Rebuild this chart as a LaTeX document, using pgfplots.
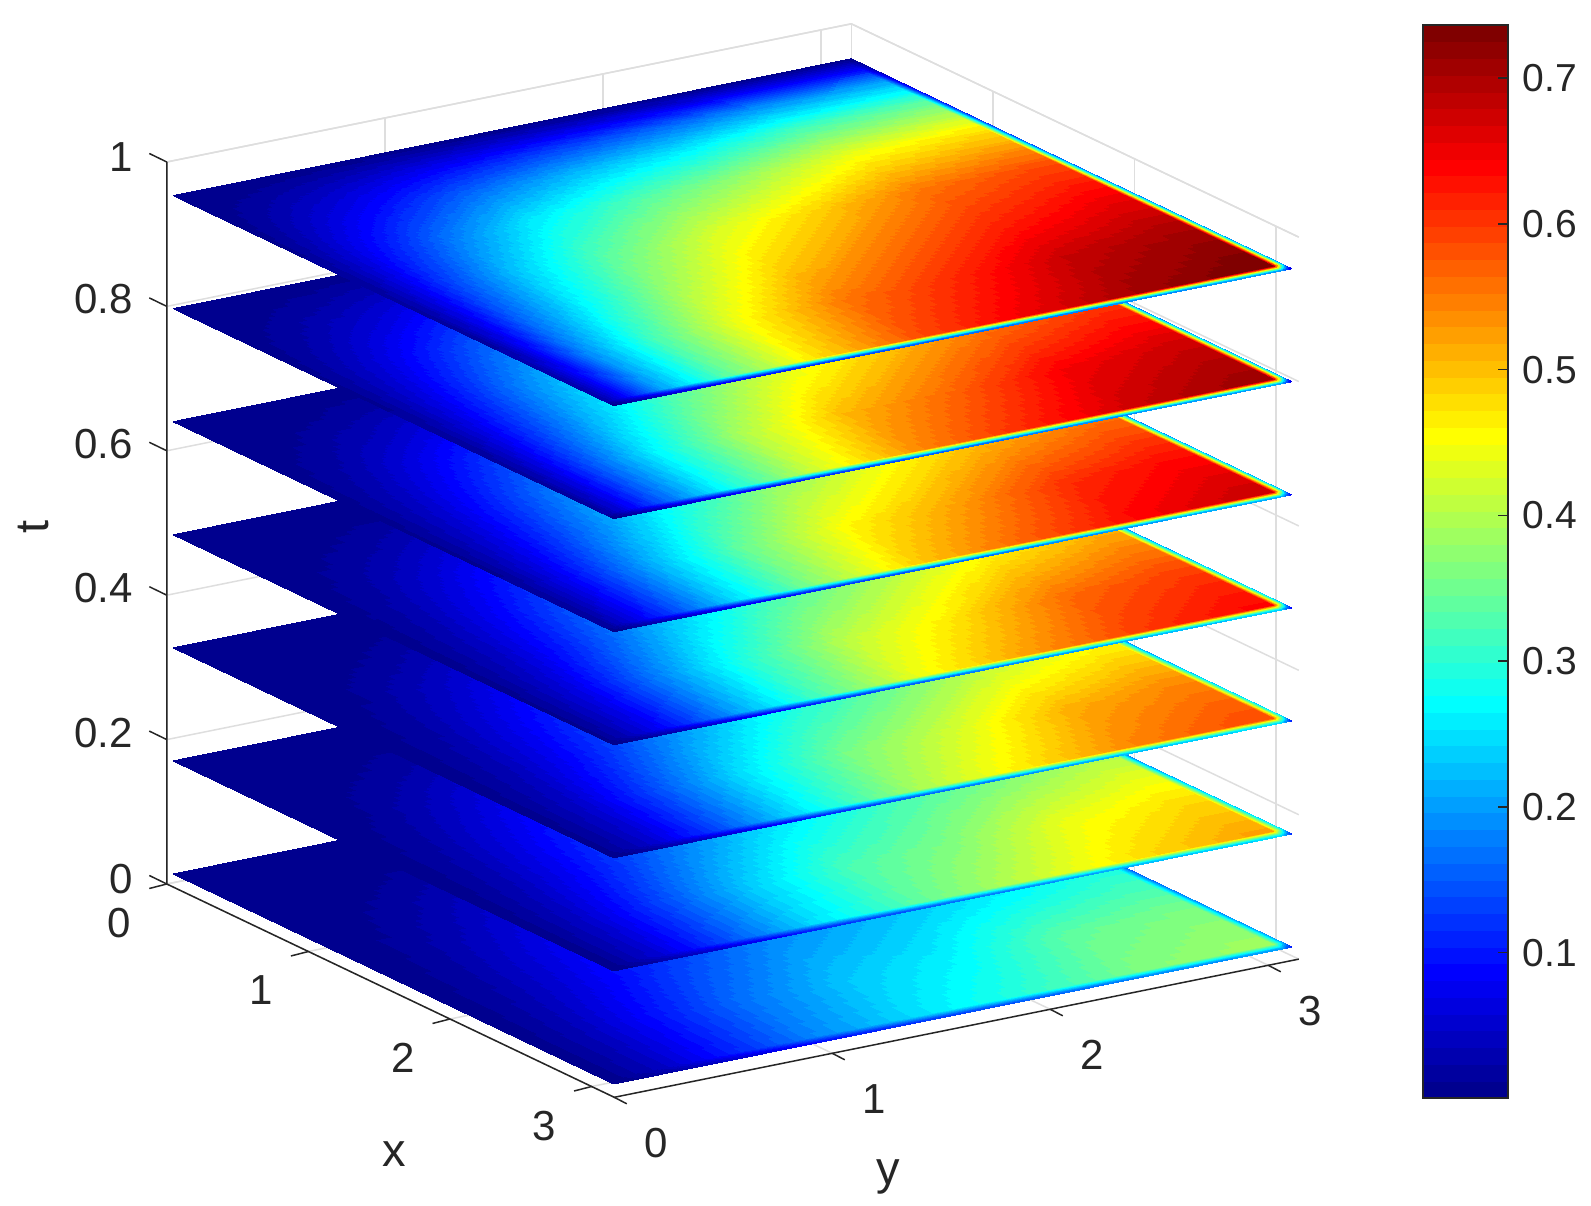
\documentclass[border=0pt]{standalone}
\usepackage{fontspec}
\setmainfont{Liberation Sans}
\usepackage{pgfplots}
\usepackage{pgfplotstable}
\usepgfplotslibrary{patchplots}
\pgfplotsset{compat=1.18}
\pgfplotsset{
  colormap={mjet}{rgb255(0)=(0,0,143) rgb255(7)=(0,0,255) rgb255(23)=(0,255,255)
    rgb255(39)=(255,255,0) rgb255(55)=(255,0,0) rgb255(63)=(128,0,0)},
  colormap={jet64}{samples of colormap=(64 of mjet)},
}
\definecolor{txt}{gray}{0.15}
\definecolor{gridc}{gray}{0.87}
\newcommand{\ticksize}{\fontsize{42}{42}\selectfont}
\newcommand{\barsize}{\fontsize{39}{39}\selectfont}
\newcommand{\labsize}{\fontsize{47}{47}\selectfont}

% x y, then the field on the seven slices, bottom to top
\pgfplotstableread{
x y u1 u2 u3 u4 u5 u6 u7
0 0.03 0.001 0.001 0.001 0.001 0.001 0.001 0.001
0.3 0.03 0.001 0.001 0.001 0.001 0.002 0.002 0.003
0.6 0.03 0.001 0.001 0.001 0.002 0.003 0.004 0.005
1 0.03 0.001 0.001 0.001 0.002 0.004 0.006 0.008
1.5 0.03 0.001 0.001 0.001 0.002 0.005 0.007 0.010
2 0.03 0.001 0.001 0.001 0.003 0.006 0.009 0.012
2.5 0.03 0.001 0.001 0.002 0.004 0.007 0.011 0.015
3 0.03 0.001 0.001 0.002 0.005 0.010 0.015 0.020
3.05 0.03 0.001 0.001 0.002 0.005 0.010 0.015 0.020
3.08 0.03 0.001 0.001 0.001 0.003 0.006 0.009 0.012
3.11 0.03 0.001 0.001 0.001 0.001 0.003 0.004 0.005
0 0.3 0.001 0.001 0.001 0.001 0.001 0.001 0.001
0.3 0.3 0.001 0.002 0.002 0.003 0.006 0.012 0.025
0.6 0.3 0.004 0.005 0.005 0.009 0.016 0.028 0.050
1 0.3 0.010 0.013 0.014 0.021 0.034 0.054 0.085
1.5 0.3 0.018 0.024 0.024 0.036 0.056 0.081 0.120
2 0.3 0.026 0.035 0.036 0.051 0.076 0.106 0.150
2.5 0.3 0.037 0.050 0.052 0.072 0.101 0.135 0.185
3 0.3 0.042 0.057 0.060 0.081 0.112 0.149 0.200
3.05 0.3 0.042 0.057 0.060 0.081 0.112 0.149 0.200
3.08 0.3 0.032 0.041 0.042 0.054 0.073 0.094 0.120
3.11 0.3 0.021 0.026 0.024 0.028 0.034 0.040 0.050
0 0.6 0.001 0.001 0.001 0.001 0.001 0.002 0.002
0.3 0.6 0.004 0.005 0.005 0.009 0.016 0.028 0.050
0.6 0.6 0.012 0.016 0.017 0.025 0.040 0.061 0.095
1 0.6 0.029 0.039 0.041 0.057 0.083 0.114 0.160
1.5 0.6 0.050 0.067 0.071 0.094 0.128 0.167 0.220
2 0.6 0.066 0.089 0.095 0.123 0.161 0.205 0.260
2.5 0.6 0.091 0.123 0.133 0.167 0.209 0.257 0.315
3 0.6 0.101 0.137 0.148 0.183 0.228 0.276 0.335
3.05 0.6 0.101 0.137 0.148 0.183 0.228 0.276 0.335
3.08 0.6 0.076 0.099 0.104 0.123 0.148 0.174 0.201
3.11 0.6 0.051 0.062 0.059 0.064 0.068 0.075 0.084
0 1 0.001 0.001 0.001 0.001 0.002 0.002 0.003
0.3 1 0.010 0.013 0.014 0.021 0.034 0.054 0.085
0.6 1 0.029 0.039 0.041 0.057 0.083 0.114 0.160
1 1 0.062 0.083 0.089 0.116 0.152 0.195 0.250
1.5 1 0.096 0.130 0.140 0.175 0.219 0.267 0.325
2 1 0.126 0.169 0.184 0.224 0.272 0.321 0.380
2.5 1 0.164 0.222 0.243 0.287 0.338 0.389 0.445
3 1 0.181 0.243 0.268 0.313 0.364 0.415 0.470
3.05 1 0.181 0.243 0.268 0.313 0.364 0.415 0.470
3.08 1 0.136 0.175 0.188 0.210 0.237 0.261 0.282
3.11 1 0.091 0.109 0.107 0.110 0.109 0.112 0.118
0 1.5 0.001 0.001 0.001 0.002 0.002 0.003 0.004
0.3 1.5 0.018 0.024 0.024 0.036 0.056 0.081 0.120
0.6 1.5 0.050 0.067 0.071 0.094 0.128 0.167 0.220
1 1.5 0.096 0.130 0.140 0.175 0.219 0.267 0.325
1.5 1.5 0.149 0.201 0.220 0.262 0.312 0.363 0.420
2 1.5 0.190 0.256 0.282 0.329 0.380 0.431 0.485
2.5 1.5 0.230 0.322 0.357 0.407 0.457 0.507 0.555
3 1.5 0.250 0.340 0.393 0.443 0.493 0.540 0.585
3.05 1.5 0.250 0.340 0.393 0.443 0.493 0.540 0.585
3.08 1.5 0.190 0.245 0.275 0.297 0.320 0.340 0.351
3.11 1.5 0.125 0.153 0.157 0.155 0.148 0.146 0.146
0 2 0.001 0.001 0.001 0.002 0.002 0.003 0.004
0.3 2 0.026 0.035 0.036 0.051 0.076 0.106 0.150
0.6 2 0.066 0.089 0.095 0.123 0.161 0.205 0.260
1 2 0.126 0.169 0.184 0.224 0.272 0.321 0.380
1.5 2 0.190 0.256 0.282 0.329 0.380 0.431 0.485
2 2 0.226 0.318 0.352 0.401 0.452 0.502 0.550
2.5 2 0.265 0.365 0.423 0.473 0.522 0.568 0.610
3 2 0.300 0.410 0.471 0.523 0.570 0.612 0.650
3.05 2 0.300 0.410 0.471 0.523 0.570 0.612 0.650
3.08 2 0.225 0.295 0.330 0.350 0.371 0.386 0.390
3.11 2 0.150 0.185 0.188 0.183 0.171 0.165 0.163
0 2.5 0.001 0.001 0.001 0.002 0.003 0.004 0.005
0.3 2.5 0.037 0.050 0.052 0.072 0.101 0.135 0.185
0.6 2.5 0.091 0.123 0.133 0.167 0.209 0.257 0.315
1 2.5 0.164 0.222 0.243 0.287 0.338 0.389 0.445
1.5 2.5 0.230 0.322 0.357 0.407 0.457 0.507 0.555
2 2.5 0.265 0.365 0.423 0.473 0.522 0.568 0.610
2.5 2.5 0.338 0.440 0.510 0.561 0.606 0.646 0.680
3 2.5 0.359 0.475 0.544 0.595 0.637 0.676 0.705
3.05 2.5 0.359 0.475 0.544 0.595 0.637 0.676 0.705
3.08 2.5 0.269 0.342 0.381 0.399 0.414 0.426 0.423
3.11 2.5 0.180 0.214 0.218 0.208 0.191 0.183 0.176
0 3 0.001 0.001 0.001 0.002 0.003 0.004 0.005
0.3 3 0.042 0.057 0.060 0.081 0.112 0.149 0.200
0.6 3 0.101 0.137 0.148 0.183 0.228 0.276 0.335
1 3 0.181 0.243 0.268 0.313 0.364 0.415 0.470
1.5 3 0.250 0.340 0.393 0.443 0.493 0.540 0.585
2 3 0.300 0.410 0.471 0.523 0.570 0.612 0.650
2.5 3 0.359 0.475 0.544 0.595 0.637 0.676 0.705
3 3 0.386 0.520 0.585 0.635 0.675 0.710 0.735
3.05 3 0.386 0.520 0.585 0.635 0.675 0.710 0.735
3.08 3 0.290 0.374 0.410 0.425 0.439 0.447 0.441
3.11 3 0.193 0.234 0.234 0.222 0.203 0.192 0.184
0 3.095 0.001 0.001 0.001 0.002 0.003 0.004 0.005
0.3 3.095 0.042 0.057 0.060 0.081 0.112 0.149 0.200
0.6 3.095 0.101 0.137 0.148 0.183 0.228 0.276 0.335
1 3.095 0.181 0.243 0.268 0.313 0.364 0.415 0.470
1.5 3.095 0.250 0.340 0.393 0.443 0.493 0.540 0.585
2 3.095 0.300 0.410 0.471 0.523 0.570 0.612 0.650
2.5 3.095 0.359 0.475 0.544 0.595 0.637 0.676 0.705
3 3.095 0.386 0.520 0.585 0.635 0.675 0.710 0.735
3.05 3.095 0.386 0.520 0.585 0.635 0.675 0.710 0.735
3.08 3.095 0.290 0.374 0.410 0.425 0.439 0.447 0.441
3.11 3.095 0.193 0.234 0.234 0.222 0.203 0.192 0.184
0 3.12 0.001 0.001 0.001 0.001 0.002 0.002 0.003
0.3 3.12 0.032 0.041 0.042 0.054 0.073 0.094 0.120
0.6 3.12 0.076 0.099 0.104 0.123 0.148 0.174 0.201
1 3.12 0.136 0.175 0.188 0.210 0.237 0.261 0.282
1.5 3.12 0.190 0.245 0.275 0.297 0.320 0.340 0.351
2 3.12 0.225 0.295 0.330 0.350 0.371 0.386 0.390
2.5 3.12 0.269 0.342 0.381 0.399 0.414 0.426 0.423
3 3.12 0.290 0.374 0.410 0.425 0.439 0.447 0.441
3.05 3.12 0.290 0.374 0.410 0.425 0.439 0.447 0.441
3.08 3.12 0.217 0.270 0.287 0.286 0.284 0.284 0.265
3.11 3.12 0.145 0.168 0.164 0.149 0.132 0.121 0.110
0 3.14 0.001 0.001 0.001 0.001 0.001 0.001 0.001
0.3 3.14 0.021 0.026 0.024 0.028 0.034 0.040 0.050
0.6 3.14 0.051 0.062 0.059 0.064 0.068 0.075 0.084
1 3.14 0.091 0.109 0.107 0.110 0.109 0.112 0.118
1.5 3.14 0.125 0.153 0.157 0.155 0.148 0.146 0.146
2 3.14 0.150 0.185 0.188 0.183 0.171 0.165 0.163
2.5 3.14 0.180 0.214 0.218 0.208 0.191 0.183 0.176
3 3.14 0.193 0.234 0.234 0.222 0.203 0.192 0.184
3.05 3.14 0.193 0.234 0.234 0.222 0.203 0.192 0.184
3.08 3.14 0.145 0.168 0.164 0.149 0.132 0.121 0.110
3.11 3.14 0.097 0.104 0.094 0.076 0.061 0.052 0.046
}\field

\begin{document}
\begin{tikzpicture}
\path[use as bounding box] (0pt,0pt) rectangle (1591pt,1206pt);
\begin{axis}[
    at={(166.8pt,322pt)}, anchor=origin,
    x={(141.6pt,-67.5pt)}, y={(218pt,44pt)}, z={(0pt,722pt)},
    xmin=0, xmax=3.16, ymin=0, ymax=3.14, zmin=0, zmax=1,
    xtick={0,1,2,3}, ytick={0,1,2,3}, ztick={0,0.2,0.4,0.6,0.8,1},
    clip=false,
    axis line style={draw=none},
    grid=major, grid style={line width=1.5pt,gridc},
    tick align=outside, major tick length=16pt,
    tick style={draw=none},
    tick label style={font=\ticksize,text=txt,/pgf/number format/assume math mode=true},
    xticklabel style={xshift=-16.5pt,yshift=-17.5pt},
    yticklabel style={xshift=15.2pt,yshift=-20pt},
    zticklabel style={xshift=-15pt,yshift=6pt},
    colormap name=jet64, colormap access=piecewise constant,
    point meta min=0.0003, point meta max=0.7364,
    every axis x label/.style={at={(axis cs:3.267,-1.08,0)},anchor=center,yshift=-2pt},
    every axis y label/.style={at={(axis cs:4.513,0.377,0)},anchor=center,yshift=-5pt},
    every axis z label/.style={at={(axis cs:0,0,0.502)},anchor=center,rotate=90,yshift=133pt,xshift=-5pt},
    xlabel={\labsize\color{txt} x}, ylabel={\labsize\color{txt} y}, zlabel={\labsize\color{txt} t},
    mesh/rows=11, patch type=bilinear,
]
\draw[line width=1.5pt,gridc] (axis cs:0,0,1)--(axis cs:0,3.14,1)--(axis cs:3.16,3.14,1);
\draw[line width=1.5pt,gridc] (axis cs:0,3.14,0)--(axis cs:0,3.14,1);
\addplot3[surf,shader=interp,point meta=\thisrow{u1}] table[x=x,y=y,z expr=0.012] {\field};
\addplot3[surf,shader=interp,point meta=\thisrow{u2}] table[x=x,y=y,z expr=0.1686] {\field};
\addplot3[surf,shader=interp,point meta=\thisrow{u3}] table[x=x,y=y,z expr=0.3252] {\field};
\addplot3[surf,shader=interp,point meta=\thisrow{u4}] table[x=x,y=y,z expr=0.4818] {\field};
\addplot3[surf,shader=interp,point meta=\thisrow{u5}] table[x=x,y=y,z expr=0.6384] {\field};
\addplot3[surf,shader=interp,point meta=\thisrow{u6}] table[x=x,y=y,z expr=0.795] {\field};
\addplot3[surf,shader=interp,point meta=\thisrow{u7}] table[x=x,y=y,z expr=0.9515] {\field};
\draw[line width=1.5pt,txt] (axis cs:0,0,1)--(axis cs:0,0,0)--(axis cs:3.16,0,0)--(axis cs:3.16,3.14,0);
\pgfplotsinvokeforeach{0,1,2,3}{
  \draw[line width=1.5pt,txt] (axis cs:#1,0,0)--++(-17.5pt,-4.5pt);
  \draw[line width=1.5pt,txt] (axis cs:3.16,#1,0)--++(12.5pt,-6.5pt);
}
\pgfplotsinvokeforeach{0,0.2,0.4,0.6,0.8,1}{
  \draw[line width=1.5pt,txt] (axis cs:0,0,#1)--++(-17.5pt,8.5pt);
}
\end{axis}
\begin{axis}[
    at={(1423pt,108pt)}, anchor=south west,
    width=85pt, height=1073pt, scale only axis,
    xmin=0, xmax=1, ymin=0.0003, ymax=0.7364,
    xtick=\empty, ytick={0.1,0.2,0.3,0.4,0.5,0.6,0.7},
    ytick pos=right, yticklabel pos=right,
    tick align=inside, major tick length=10pt,
    tick style={line width=1.5pt,txt},
    axis line style={line width=1.5pt,txt},
    tick label style={font=\barsize,text=txt,/pgf/number format/assume math mode=true},
    yticklabel style={xshift=11pt},
    colormap name=jet64, colormap access=piecewise constant,
    point meta min=0.0003, point meta max=0.7364,
    axis on top,
]
\addplot[surf,shader=interp,mesh/rows=2,point meta=y] coordinates {(0,0.0003) (1,0.0003) (0,0.7364) (1,0.7364)};
\end{axis}
\end{tikzpicture}
\end{document}
